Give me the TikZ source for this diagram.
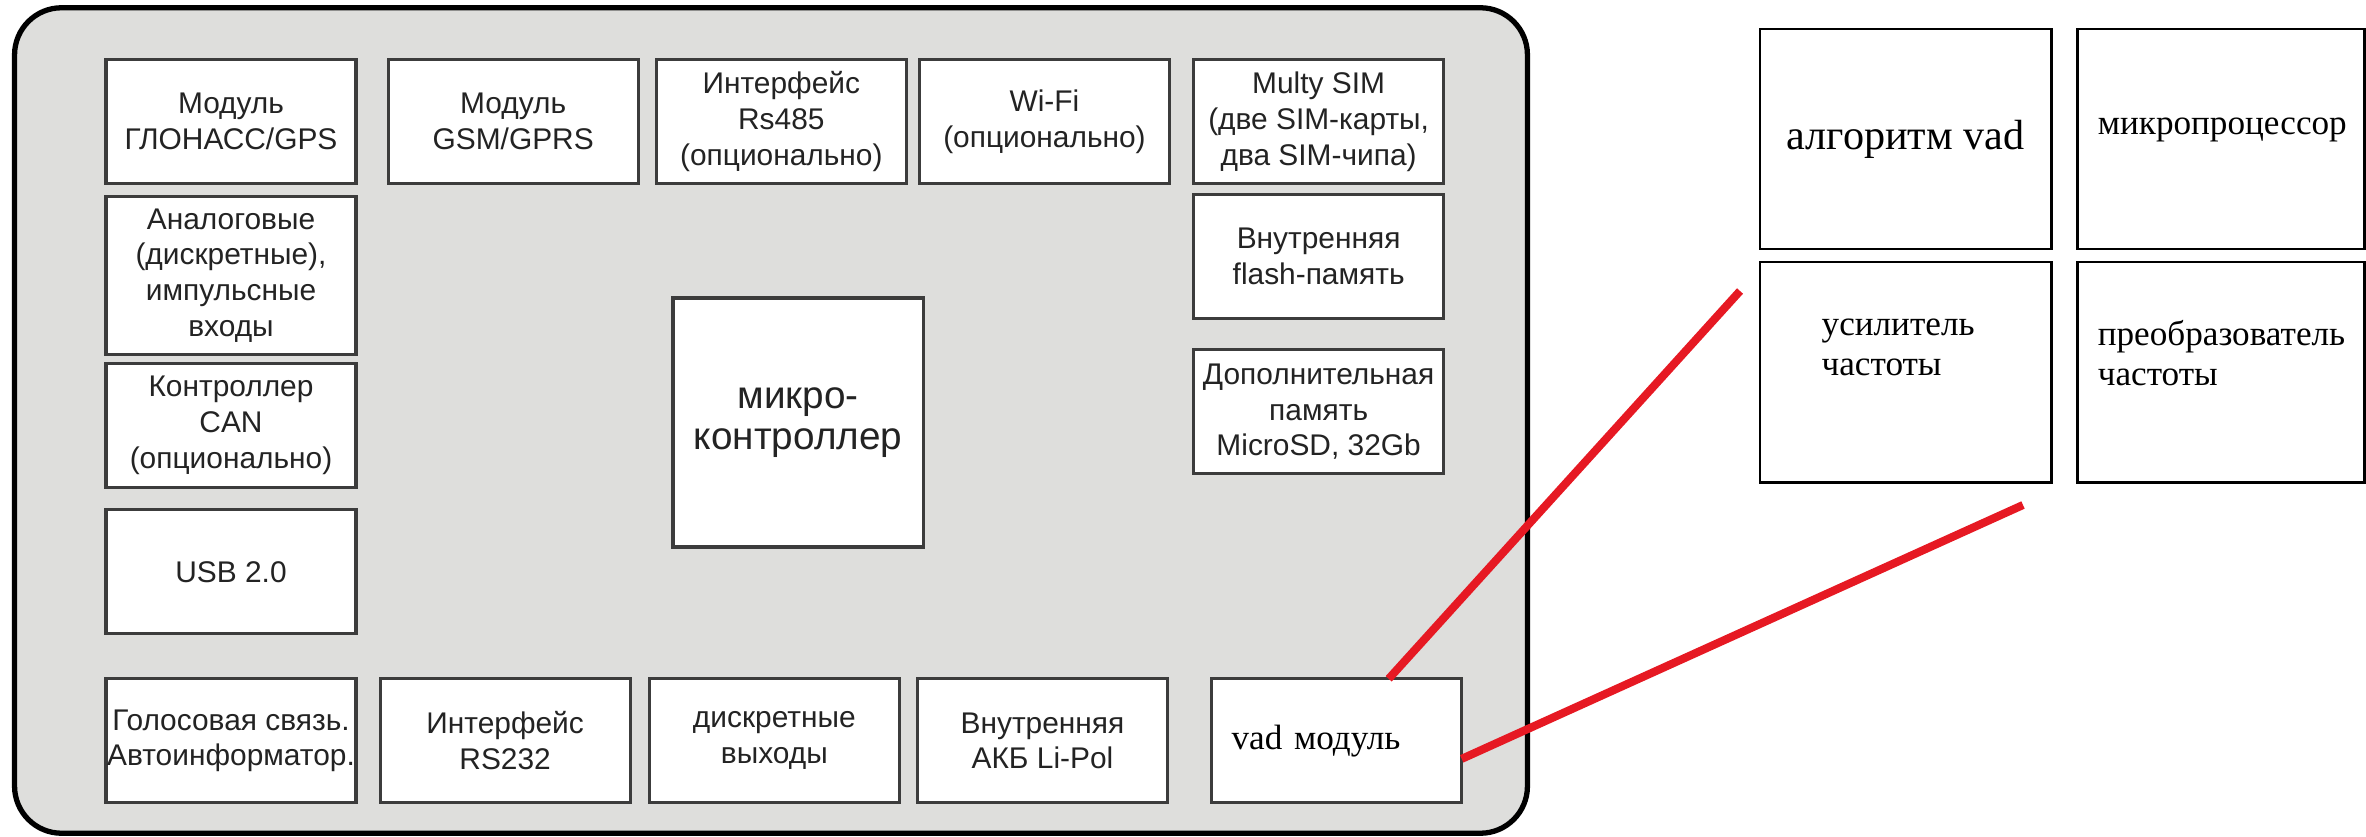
\documentclass[tikz,border=0pt]{standalone}
\usepackage{fontspec}
\setmainfont{Liberation Serif}
\newfontfamily\sansfam{Liberation Sans}
\usetikzlibrary{positioning, calc}
\definecolor{boardgray}{RGB}{222, 222, 220}
\definecolor{edgegray}{RGB}{60, 60, 60}
\definecolor{textgray}{RGB}{35, 35, 35}
\definecolor{vadred}{RGB}{230, 25, 35}
\newcommand{\unitfont}{\sansfam\fontsize{8.5}{10.2}\selectfont}
\newcommand{\blockfont}{\rmfamily\fontsize{10}{11.4}\selectfont}

\begin{document}
\begin{tikzpicture}[x=0.01cm, y=-0.01cm,
            board/.style={draw=black, line width=1.5pt, fill=boardgray, rounded corners=0.47cm, minimum width=15.12cm, minimum height=8.25cm},
            unitbox/.style={draw=edgegray, line width=0.9pt, fill=white, minimum width=2.5cm, minimum height=1.24cm, inner sep=0pt, outer sep=0pt, align=center, text=textgray, font=\unitfont},
            vadblock/.style={draw=black, line width=0.8pt, fill=white, minimum width=2.91cm, minimum height=2.2cm, inner sep=0pt, outer sep=0pt},
            blocktext/.style={align=left, inner sep=0pt, font=\blockfont},
            redlink/.style={draw=vadred, line width=2.3pt}
        ]
            \useasboundingbox (0,0) rectangle (2366,837);
            \node[board] (board) at (771,420.5) {};
            
            \node[unitbox] (glonass) at (231,121.5) {Модуль\\ГЛОНАСС/GPS};
            \node[unitbox, right=0.32cm of glonass] (gsm) {Модуль\\GSM/GPRS};
            \node[unitbox, right=0.18cm of gsm] (rs485) {Интерфейс\\Rs485\\(опционально)};
            \node[unitbox, right=0.13cm of rs485] (wifi) {Wi-Fi\\(опционально)};
            \node[unitbox, right=0.24cm of wifi] (multysim) {Multy SIM\\(две SIM-карты,\\два SIM-чипа)};
            
            \node[unitbox, below=0.13cm of glonass, minimum height=1.58cm] (analog) {Аналоговые\\(дискретные),\\импульсные\\входы};
            \node[unitbox, below=0.09cm of analog] (can) {Контроллер\\CAN\\(опционально)};
            \node[unitbox, below=0.22cm of can] (usb) {USB 2.0};
            \node[unitbox, below=0.45cm of usb] (voice) {Голосовая связь.\\Автоинформатор.};
            \node[unitbox, right=0.24cm of voice] (rs232) {Интерфейс\\RS232};
            \node[unitbox, right=0.19cm of rs232] (discrete) {дискретные\\выходы};
            \node[unitbox, right=0.18cm of discrete] (akb) {Внутренняя\\АКБ Li-Pol};
            \node[unitbox, right=0.44cm of akb, text=black, font=\blockfont, text width=2.1cm, align=left] (vad) {vad модуль};
            
            \node[unitbox, below=0.11cm of multysim] (flash) {Внутренняя\\flash-память};
            \node[unitbox, below=0.31cm of flash] (microsd) {Дополнительная\\память\\MicroSD, 32Gb};
            \node[unitbox, minimum height=2.49cm, font=\sansfam\fontsize{11}{11.6}\selectfont] (micro) at (798,422.5) {микро-\\контроллер};
            
            \node[vadblock, font=\rmfamily\fontsize{12}{14}\selectfont] (algo) at (1905.5,139) {алгоритм vad};
            \node[vadblock, right=0.26cm of algo, minimum width=2.87cm] (cpu) {};
            \node[vadblock, below=0.13cm of algo] (amp) {};
            \node[vadblock, right=0.26cm of amp, minimum width=2.87cm] (conv) {};
            
            \node[blocktext, anchor=west] (cputext) at ([xshift=0.2cm, yshift=0.09cm]cpu.west) {микропроцессор};
            \node[blocktext, anchor=west] (amptext) at ([xshift=0.61cm, yshift=0.25cm]amp.west) {усилитель\\частоты};
            \node[blocktext, anchor=west] (convtext) at ([xshift=0.2cm, yshift=0.19cm]conv.west) {преобразователь\\частоты};
            
            \coordinate (ampend) at (1740,291);
            \coordinate (convend) at (2023,505);
            \draw[redlink] ([xshift=0.52cm]vad.north) -- (ampend);
            \draw[redlink] ([yshift=-0.18cm]vad.east) -- (convend);
        \end{tikzpicture}
\end{document}
